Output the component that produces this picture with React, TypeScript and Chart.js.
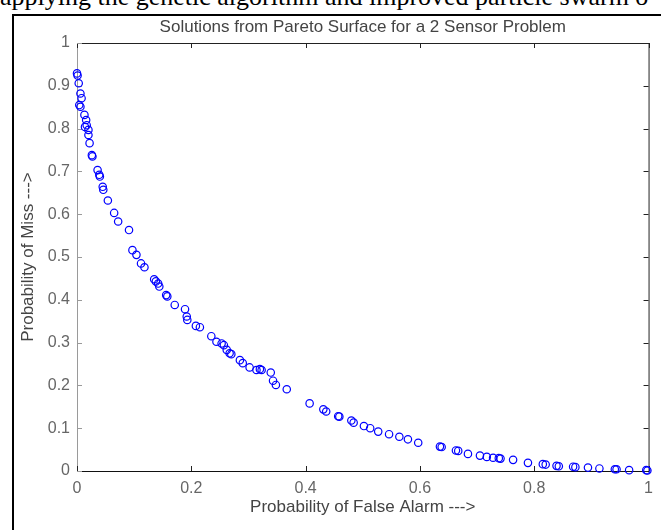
import React, { useEffect, useRef } from "react";
import { Chart, registerables } from "chart.js";

Chart.register(...registerables);

const chartTitle = "Solutions from Pareto Surface for a 2 Sensor Problem";
const xAxisTitle = "Probability of False Alarm --->";
const yAxisTitle = "Probability of Miss --->";
const headerText = "applying the genetic algorithm and improved particle swarm o";

const falseAlarm = [
  0.0, 0.001, 0.003, 0.006, 0.008, 0.004, 0.006, 0.013, 0.016, 0.017,
  0.014, 0.02, 0.02, 0.022, 0.026, 0.027, 0.036, 0.039, 0.04, 0.045,
  0.046, 0.054, 0.065, 0.072, 0.091, 0.097, 0.104, 0.112, 0.118, 0.135,
  0.138, 0.142, 0.144, 0.156, 0.158, 0.171, 0.189, 0.192, 0.193, 0.208,
  0.215, 0.235, 0.244, 0.253, 0.257, 0.262, 0.267, 0.27, 0.285, 0.29,
  0.302, 0.314, 0.32, 0.323, 0.339, 0.343, 0.348, 0.367, 0.407, 0.431,
  0.436, 0.457, 0.459, 0.48, 0.484, 0.502, 0.513, 0.527, 0.546, 0.564,
  0.579, 0.597, 0.635, 0.638, 0.663, 0.667, 0.684, 0.705, 0.717, 0.728,
  0.738, 0.741, 0.763, 0.789, 0.815, 0.82, 0.839, 0.843, 0.868, 0.872,
  0.894, 0.914, 0.941, 0.944, 0.966, 0.996, 0.998,
];

const miss = [
  0.929, 0.924, 0.906, 0.882, 0.871, 0.855, 0.851, 0.832, 0.82, 0.808,
  0.804, 0.797, 0.785, 0.766, 0.738, 0.735, 0.703, 0.692, 0.688, 0.664,
  0.657, 0.632, 0.603, 0.583, 0.563, 0.516, 0.505, 0.485, 0.476, 0.448,
  0.443, 0.438, 0.431, 0.411, 0.408, 0.388, 0.378, 0.361, 0.353, 0.339,
  0.336, 0.315, 0.302, 0.298, 0.294, 0.283, 0.275, 0.273, 0.259, 0.252,
  0.242, 0.236, 0.238, 0.236, 0.23, 0.211, 0.201, 0.191, 0.158, 0.144,
  0.139, 0.128, 0.127, 0.118, 0.113, 0.105, 0.1, 0.092, 0.086, 0.08,
  0.074, 0.066, 0.057, 0.056, 0.048, 0.047, 0.04, 0.036, 0.033, 0.031,
  0.03, 0.029, 0.026, 0.019, 0.016, 0.015, 0.012, 0.011, 0.01, 0.009,
  0.008, 0.006, 0.004, 0.004, 0.002, 0.002, 0.001,
];

const FONT = "'Liberation Sans', Arial, sans-serif";
const fmt = (v: number) => String(Math.round(v * 10) / 10);

const boxTicksPlugin = {
  id: "boxTicks",
  beforeDatasetsDraw(chart: any) {
    const { ctx, chartArea } = chart;
    const { left, right, top, bottom } = chartArea;
    const xs = chart.scales.x;
    const ys = chart.scales.y;
    const len = 5;
    ctx.save();
    ctx.lineWidth = 1;
    ctx.strokeStyle = "#222";
    ctx.beginPath();
    ctx.moveTo(left, top + 0.5);
    ctx.lineTo(right + 0.5, top + 0.5);
    ctx.lineTo(right + 0.5, bottom);
    ctx.stroke();
    ctx.beginPath();
    xs.ticks.forEach((t: any) => {
      const px = Math.round(xs.getPixelForValue(t.value)) + 0.5;
      ctx.moveTo(px, bottom);
      ctx.lineTo(px, bottom - len);
      ctx.moveTo(px, top);
      ctx.lineTo(px, top + len);
    });
    ys.ticks.forEach((t: any) => {
      const py = Math.round(ys.getPixelForValue(t.value)) + 0.5;
      ctx.moveTo(right, py);
      ctx.lineTo(right - len, py);
    });
    ctx.stroke();
    ctx.strokeStyle = "#9a9a9a";
    ctx.beginPath();
    ys.ticks.forEach((t: any) => {
      const py = Math.round(ys.getPixelForValue(t.value)) + 0.5;
      ctx.moveTo(left, py);
      ctx.lineTo(left + len, py);
    });
    ctx.stroke();
    // chart title centred over the plot area
    ctx.fillStyle = "#444";
    ctx.font = `17px ${FONT}`;
    ctx.textAlign = "center";
    ctx.textBaseline = "middle";
    ctx.fillText(chartTitle, (left + right) / 2, 27);
    ctx.restore();
  },
};

export default function App() {
  const canvasRef = useRef<HTMLCanvasElement | null>(null);

  useEffect(() => {
    if (!canvasRef.current) return;
    const points = falseAlarm.map((x, i) => ({ x, y: miss[i] }));
    const chart = new Chart(canvasRef.current, {
      type: "scatter",
      data: {
        datasets: [
          {
            data: points,
            pointStyle: "circle",
            pointRadius: 3.7,
            pointBorderWidth: 1.2,
            borderColor: "#0000ff",
            backgroundColor: "rgba(0,0,0,0)",
            clip: false,
          } as any,
        ],
      },
      options: {
        responsive: false,
        animation: false,
        devicePixelRatio: 1,
        layout: { padding: { left: 0, right: 12, top: 43, bottom: 0 } },
        plugins: {
          legend: { display: false },
          tooltip: { enabled: false },
          title: { display: false },
        },
        scales: {
          x: {
            type: "linear",
            min: 0,
            max: 1,
            ticks: {
              stepSize: 0.2,
              color: "#666",
              font: { family: FONT, size: 16 },
              padding: 8,
              maxRotation: 0,
              callback: (v: any) => fmt(Number(v)),
            },
            grid: { display: true, drawOnChartArea: false, drawTicks: false },
            border: { display: true, color: "#111", width: 1 },
            title: {
              display: true,
              text: xAxisTitle,
              color: "#444",
              font: { family: FONT, size: 17 },
              padding: { top: 12.8, bottom: 12.8 },
            },
            afterFit: (s: any) => {
              s.height = 59;
            },
          },
          y: {
            type: "linear",
            min: 0,
            max: 1,
            ticks: {
              stepSize: 0.1,
              color: "#666",
              font: { family: FONT, size: 16 },
              padding: 7,
              callback: (v: any) => fmt(Number(v)),
            },
            grid: { display: true, drawOnChartArea: false, drawTicks: false },
            border: { display: true, color: "#9a9a9a", width: 1 },
            title: {
              display: true,
              text: yAxisTitle,
              color: "#444",
              font: { family: FONT, size: 17 },
              padding: { top: 18, bottom: 18 },
            },
            afterFit: (s: any) => {
              s.width = 77;
            },
          },
        },
      } as any,
      plugins: [boxTicksPlugin],
    });
    return () => chart.destroy();
  }, []);

  return (
    <div
      style={{
        position: "fixed",
        left: 0,
        top: 0,
        width: 661,
        height: 530,
        overflow: "hidden",
        background: "#fff",
      }}
    >
      <div
        style={{
          position: "absolute",
          left: 0,
          top: -18,
          whiteSpace: "nowrap",
          fontFamily: "'Liberation Serif', 'Times New Roman', serif",
          fontSize: 26,
          lineHeight: "30px",
          color: "#000",
        }}
      >
        {headerText}
      </div>
      <div
        style={{
          position: "absolute",
          left: 12,
          top: 14,
          width: 700,
          height: 600,
          borderLeft: "2px solid #000",
          borderTop: "2px solid #000",
          boxSizing: "border-box",
        }}
      />
      <canvas
        ref={canvasRef}
        width={661}
        height={530}
        style={{ position: "absolute", left: 0, top: 0, width: 661, height: 530 }}
      />
    </div>
  );
}
